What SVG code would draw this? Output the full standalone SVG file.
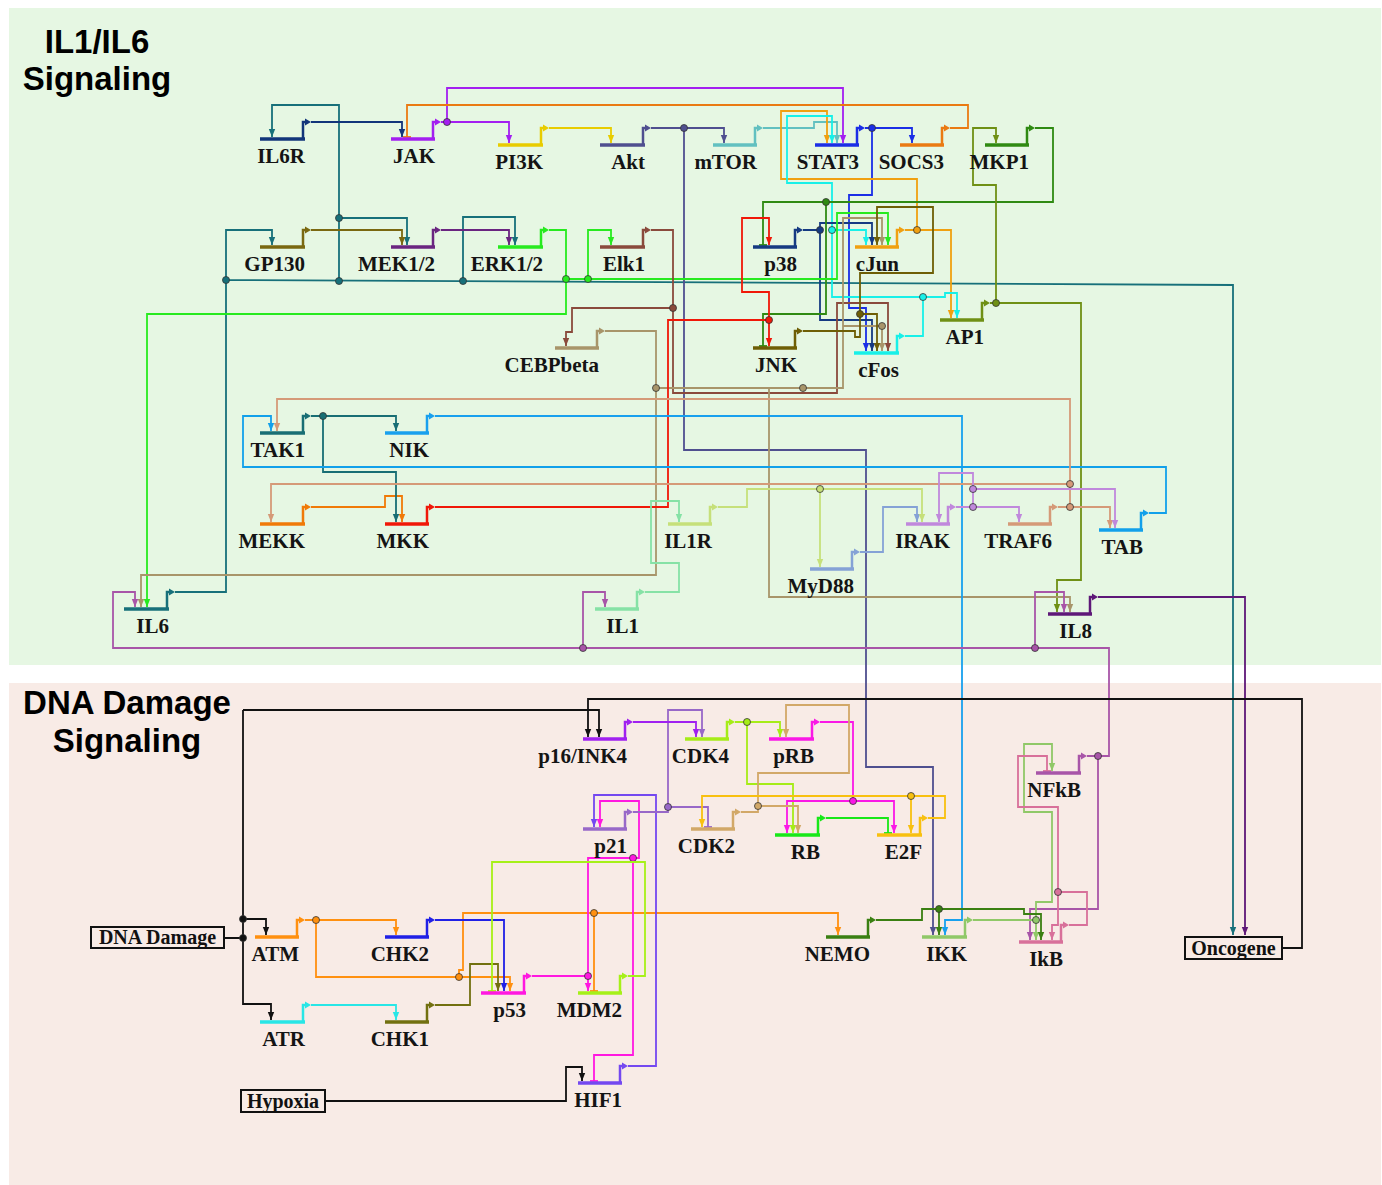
<svg xmlns="http://www.w3.org/2000/svg" width="1382" height="1185" viewBox="0 0 1382 1185">
<style>
.bar{fill:none;stroke:currentColor;stroke-width:3.5}
.pr{fill:none;stroke:currentColor;stroke-width:2.5}
.tri{fill:currentColor}
.lbl{fill:#141414;font-family:"Liberation Serif","Times New Roman",serif;font-weight:bold;font-size:21px;text-anchor:end}
.ln{fill:none;stroke:currentColor;stroke-width:1.8}
.ttl{fill:#000;font-family:"Liberation Sans",Arial,sans-serif;font-weight:bold;font-size:33px;text-anchor:middle}
.box{fill:none;stroke:#111;stroke-width:2}
.blbl{fill:#111;font-family:"Liberation Serif","Times New Roman",serif;font-weight:bold;font-size:20px;text-anchor:middle}
</style>
<defs>
<path id="ah" d="M-3.2 -8L3.2 -8L0 0Z" fill="currentColor"/>
<path id="tb" d="M-4 0H4" stroke="currentColor" stroke-width="1.8"/>
<circle id="dt" r="3.5" fill="currentColor" stroke="#333" stroke-width="0.8"/>
</defs>
<rect x="9" y="8" width="1372" height="657" fill="#e6f7e3"/>
<rect x="9" y="683" width="1372" height="502" fill="#f8ebe6"/>
<text class="ttl" x="97" y="53">IL1/IL6</text>
<text class="ttl" x="97" y="90">Signaling</text>
<text class="ttl" x="127" y="714">DNA Damage</text>
<text class="ttl" x="127" y="752">Signaling</text>

<g id="connectors">
<g id="e-IL6" style="color:#17707a"><path class="ln" d="M175 592H226V230H272V245M226 280L1233 285V935M339 281V105H272V137M339 218H407V245M463 281V217H515V245"/><use href="#ah" x="272" y="245"/><use href="#ah" x="1233" y="935"/><use href="#ah" x="272" y="137"/><use href="#ah" x="407" y="245"/><use href="#ah" x="515" y="245"/><use href="#dt" x="226" y="280"/><use href="#dt" x="339" y="281"/><use href="#dt" x="339" y="218"/><use href="#dt" x="463" y="281"/></g>
<g id="e-IL6R" style="color:#12357a"><path class="ln" d="M311 122H402V137"/><use href="#ah" x="402" y="137"/></g>
<g id="e-JAK" style="color:#a31ff0"><path class="ln" d="M441 122H509V143M447 122V88H843V143"/><use href="#ah" x="509" y="143"/><use href="#ah" x="843" y="143"/><use href="#dt" x="447" y="122"/></g>
<g id="e-SOCS3" style="color:#ea7a12"><path class="ln" d="M950 128H968V105H407V137"/><use href="#tb" x="407" y="137"/></g>
<g id="e-PI3K" style="color:#e8cc00"><path class="ln" d="M549 128H611V143"/><use href="#ah" x="611" y="143"/></g>
<g id="e-Akt" style="color:#4f4f8f"><path class="ln" d="M651 128H724V143M684 128V450H866V767H933V935"/><use href="#ah" x="724" y="143"/><use href="#ah" x="933" y="935"/><use href="#dt" x="684" y="128"/></g>
<g id="e-mTOR" style="color:#62c0c0"><path class="ln" d="M763 128H814V122H837V143"/><use href="#ah" x="837" y="143"/></g>
<g id="e-STAT3" style="color:#1a2ee6"><path class="ln" d="M865 128H912V143M872 128V195H849V308H866V351"/><use href="#ah" x="912" y="143"/><use href="#ah" x="866" y="351"/><use href="#dt" x="872" y="128"/></g>
<g id="e-cJun" style="color:#f0a010"><path class="ln" d="M905 230H951V318M917 230V179H781V111H827V143"/><use href="#ah" x="951" y="318"/><use href="#ah" x="827" y="143"/><use href="#dt" x="917" y="230"/></g>
<g id="e-cFos" style="color:#18f0e8"><path class="ln" d="M905 336H923V297H945V293H957V318M923 297H832V183H787V116H832V143M832 230H866V245"/><use href="#ah" x="957" y="318"/><use href="#ah" x="832" y="143"/><use href="#ah" x="866" y="245"/><use href="#dt" x="923" y="297"/><use href="#dt" x="832" y="230"/></g>
<g id="e-p38" style="color:#153a82"><path class="ln" d="M803 230H820V223H872V245M820 230V320H872V351"/><use href="#ah" x="872" y="245"/><use href="#ah" x="872" y="351"/><use href="#dt" x="820" y="230"/></g>
<g id="e-MKP1" style="color:#2f8a12"><path class="ln" d="M1035 128H1053V202H763V245M826 202V314H763V346"/><use href="#tb" x="763" y="245"/><use href="#tb" x="763" y="346"/><use href="#dt" x="826" y="202"/></g>
<g id="e-AP1" style="color:#6f9015"><path class="ln" d="M990 303H1081V580H1057V612M996 303V185H973V128H996V143"/><use href="#ah" x="1057" y="612"/><use href="#ah" x="996" y="143"/><use href="#dt" x="996" y="303"/></g>
<g id="e-ERK" style="color:#27ea1f"><path class="ln" d="M549 230H566V279H837V213H888V245M588 279V230H611V245M566 279V314H147V607"/><use href="#ah" x="888" y="245"/><use href="#ah" x="611" y="245"/><use href="#ah" x="147" y="607"/><use href="#dt" x="566" y="279"/><use href="#dt" x="588" y="279"/></g>
<g id="e-MEK" style="color:#6a2580"><path class="ln" d="M441 230H509V245"/><use href="#ah" x="509" y="245"/></g>
<g id="e-GP130" style="color:#7a6810"><path class="ln" d="M311 230H402V245"/><use href="#ah" x="402" y="245"/></g>
<g id="e-Elk1" style="color:#8a4a3c"><path class="ln" d="M651 230H673V393H837V303H888V351M673 308H572V332H566V346"/><use href="#ah" x="888" y="351"/><use href="#ah" x="566" y="346"/><use href="#dt" x="673" y="308"/></g>
<g id="e-CEBP" style="color:#a8956a"><path class="ln" d="M605 331H656V575H141V607M656 388H843V218H882V245M843 326H882V351M769 388V597H1070V612"/><use href="#ah" x="141" y="607"/><use href="#ah" x="882" y="245"/><use href="#ah" x="882" y="351"/><use href="#ah" x="1070" y="612"/><use href="#dt" x="656" y="388"/><use href="#dt" x="803" y="388"/><use href="#dt" x="882" y="326"/></g>
<g id="e-JNK" style="color:#6e5e05"><path class="ln" d="M803 331H855V337H860V314H877V351M860 314V273H933V207H877V245"/><use href="#ah" x="877" y="351"/><use href="#ah" x="877" y="245"/><use href="#dt" x="860" y="314"/></g>
<g id="e-MKK" style="color:#f01808"><path class="ln" d="M435 507H668V320H769V346M769 320V292H742V218H769V245"/><use href="#ah" x="769" y="346"/><use href="#ah" x="769" y="245"/><use href="#dt" x="769" y="320"/></g>
<g id="e-MEKK" style="color:#f07a08"><path class="ln" d="M311 507H385V496H402V522"/><use href="#ah" x="402" y="522"/></g>
<g id="e-TAK1" style="color:#186e74"><path class="ln" d="M311 416H396V431M323 416V472H396V522"/><use href="#ah" x="396" y="431"/><use href="#ah" x="396" y="522"/><use href="#dt" x="323" y="416"/></g>
<g id="e-NIK" style="color:#18a0ee"><path class="ln" d="M435 416H962V920H945V935"/><use href="#ah" x="945" y="935"/></g>
<g id="e-TAB" style="color:#12a0ea"><path class="ln" d="M1149 513H1166V467H243V416H271V431"/><use href="#ah" x="271" y="431"/></g>
<g id="e-TRAF6" style="color:#d59a78"><path class="ln" d="M1058 507H1110V528M1070 507V399H277V431M1070 484H271V522"/><use href="#ah" x="1110" y="528"/><use href="#ah" x="277" y="431"/><use href="#ah" x="271" y="522"/><use href="#dt" x="1070" y="507"/><use href="#dt" x="1070" y="484"/></g>
<g id="e-IRAK" style="color:#c088dc"><path class="ln" d="M956 507H1019V522M973 507V473H939V522M973 489H1115V528"/><use href="#ah" x="1019" y="522"/><use href="#ah" x="939" y="522"/><use href="#ah" x="1115" y="528"/><use href="#dt" x="973" y="507"/><use href="#dt" x="973" y="489"/></g>
<g id="e-MyD88" style="color:#85a2d6"><path class="ln" d="M860 552H883V507H917V522"/><use href="#ah" x="917" y="522"/></g>
<g id="e-IL1R" style="color:#c6e07a"><path class="ln" d="M718 507H747V489H922V522M820 489V567"/><use href="#ah" x="922" y="522"/><use href="#ah" x="820" y="567"/><use href="#dt" x="820" y="489"/></g>
<g id="e-IL1" style="color:#86e2a6"><path class="ln" d="M645 592H679V563H651V501H679V522"/><use href="#ah" x="679" y="522"/></g>
<g id="e-NFkB" style="color:#a855a8"><path class="ln" d="M1087 756H1109V648H113V592H135V607M1035 648V592H1064V612M583 648V592H605V607M1098 756V909H1030V940"/><use href="#ah" x="135" y="607"/><use href="#ah" x="1064" y="612"/><use href="#ah" x="605" y="607"/><use href="#ah" x="1030" y="940"/><use href="#dt" x="1098" y="756"/><use href="#dt" x="1035" y="648"/><use href="#dt" x="583" y="648"/></g>
<g id="e-IL8" style="color:#5e1878"><path class="ln" d="M1098 597H1245V935"/><use href="#ah" x="1245" y="935"/></g>
<g id="e-Oncogene" style="color:#111"><path class="ln" d="M1282 948H1302V699H588V737"/><use href="#ah" x="588" y="737"/></g>
<g id="e-DNADamage" style="color:#111"><path class="ln" d="M224 938H243M243 710V1004H271V1020M243 710H599V737M243 919H266V935"/><use href="#ah" x="271" y="1020"/><use href="#ah" x="599" y="737"/><use href="#ah" x="266" y="935"/><use href="#dt" x="243" y="938"/><use href="#dt" x="243" y="919"/></g>
<g id="e-Hypoxia" style="color:#111"><path class="ln" d="M325 1101H566V1067H582V1081"/><use href="#ah" x="582" y="1081"/></g>
<g id="e-ATM" style="color:#ff9010"><path class="ln" d="M305 920H396V935M316 920V977H510V991M459 977V970H463V913H838V935M594 913V991"/><use href="#ah" x="396" y="935"/><use href="#ah" x="510" y="991"/><use href="#ah" x="838" y="935"/><use href="#tb" x="594" y="991"/><use href="#dt" x="316" y="920"/><use href="#dt" x="459" y="977"/><use href="#dt" x="594" y="913"/></g>
<g id="e-CHK2" style="color:#2020e6"><path class="ln" d="M435 920H504V991"/><use href="#ah" x="504" y="991"/></g>
<g id="e-ATR" style="color:#28e6e6"><path class="ln" d="M311 1005H396V1020"/><use href="#ah" x="396" y="1020"/></g>
<g id="e-CHK1" style="color:#727010"><path class="ln" d="M435 1005H470V964H498V991"/><use href="#ah" x="498" y="991"/></g>
<g id="e-p53" style="color:#ff18e0"><path class="ln" d="M532 976H588V991M588 976V858H639V801H600V827M633 858V1055H594V1081"/><use href="#ah" x="588" y="991"/><use href="#ah" x="600" y="827"/><use href="#tb" x="594" y="1081"/><use href="#dt" x="588" y="976"/><use href="#dt" x="633" y="858"/></g>
<g id="e-MDM2" style="color:#a6f018"><path class="ln" d="M628 976H645V862H492V991"/><use href="#tb" x="492" y="991"/></g>
<g id="e-HIF1" style="color:#7448f0"><path class="ln" d="M628 1066H656V795H594V827"/><use href="#ah" x="594" y="827"/></g>
<g id="e-p21" style="color:#9868c8"><path class="ln" d="M633 812H668V807M668 807V710H702V737M668 807H708V827"/><use href="#ah" x="702" y="737"/><use href="#tb" x="708" y="827"/><use href="#dt" x="668" y="807"/></g>
<g id="e-p16" style="color:#a020f0"><path class="ln" d="M633 722H696V737"/><use href="#ah" x="696" y="737"/></g>
<g id="e-CDK4" style="color:#a6ec18"><path class="ln" d="M735 722H780V737M747 722V784H793V833"/><use href="#ah" x="780" y="737"/><use href="#ah" x="793" y="833"/><use href="#dt" x="747" y="722"/></g>
<g id="e-pRB" style="color:#fa18e6"><path class="ln" d="M820 722H853V801H787V833M853 801H894V833"/><use href="#ah" x="787" y="833"/><use href="#ah" x="894" y="833"/><use href="#dt" x="853" y="801"/></g>
<g id="e-CDK2" style="color:#d2a868"><path class="ln" d="M741 812H758V806M758 806V773H849V705H786V737M758 806H798V833"/><use href="#ah" x="786" y="737"/><use href="#ah" x="798" y="833"/><use href="#dt" x="758" y="806"/></g>
<g id="e-E2F" style="color:#f8c010"><path class="ln" d="M928 818H945V796H702V827M911 796V833"/><use href="#ah" x="702" y="827"/><use href="#ah" x="911" y="833"/><use href="#dt" x="911" y="796"/></g>
<g id="e-RB" style="color:#18e818"><path class="ln" d="M826 818H888V833"/><use href="#tb" x="888" y="833"/></g>
<g id="e-IKK" style="color:#90c868"><path class="ln" d="M973 920H1036V940M1036 920V902H1052V812H1024V744H1052V771"/><use href="#ah" x="1036" y="940"/><use href="#ah" x="1052" y="771"/><use href="#dt" x="1036" y="920"/></g>
<g id="e-NEMO" style="color:#3a7f12"><path class="ln" d="M876 920H922V909H1024V914H1041V940M939 909V935"/><use href="#ah" x="1041" y="940"/><use href="#ah" x="939" y="935"/><use href="#dt" x="939" y="909"/></g>
<g id="e-IkB" style="color:#d8709a"><path class="ln" d="M1069 925H1087V892H1058V925H1052V940M1058 892V807H1018V756H1047V771"/><use href="#ah" x="1052" y="940"/><use href="#tb" x="1047" y="771"/><use href="#dt" x="1058" y="892"/></g>
</g>

<g id="nodes">
<g id="n-IL6R" style="color:#12357a"><path class="bar" d="M260 139H305"/><path class="pr" d="M303 139V122H305"/><path class="tri" d="M305 118.5V125.5L311 122Z"/><text class="lbl" x="305" y="163">IL6R</text></g>
<g id="n-JAK" style="color:#a31ff0"><path class="bar" d="M391 139H435"/><path class="pr" d="M433 139V122H435"/><path class="tri" d="M435 118.5V125.5L441 122Z"/><text class="lbl" x="435" y="163">JAK</text></g>
<g id="n-PI3K" style="color:#e8cc00"><path class="bar" d="M498 145H543"/><path class="pr" d="M541 145V128H543"/><path class="tri" d="M543 124.5V131.5L549 128Z"/><text class="lbl" x="543" y="169">PI3K</text></g>
<g id="n-Akt" style="color:#4f4f8f"><path class="bar" d="M600 145H645"/><path class="pr" d="M643 145V128H645"/><path class="tri" d="M645 124.5V131.5L651 128Z"/><text class="lbl" x="645" y="169">Akt</text></g>
<g id="n-mTOR" style="color:#62c0c0"><path class="bar" d="M713 145H757"/><path class="pr" d="M755 145V128H757"/><path class="tri" d="M757 124.5V131.5L763 128Z"/><text class="lbl" x="757" y="169">mTOR</text></g>
<g id="n-STAT3" style="color:#1a2ee6"><path class="bar" d="M815 145H859"/><path class="pr" d="M857 145V128H859"/><path class="tri" d="M859 124.5V131.5L865 128Z"/><text class="lbl" x="859" y="169">STAT3</text></g>
<g id="n-SOCS3" style="color:#ea7a12"><path class="bar" d="M900 145H944"/><path class="pr" d="M942 145V128H944"/><path class="tri" d="M944 124.5V131.5L950 128Z"/><text class="lbl" x="944" y="169">SOCS3</text></g>
<g id="n-MKP1" style="color:#2f8a12"><path class="bar" d="M985 145H1029"/><path class="pr" d="M1027 145V128H1029"/><path class="tri" d="M1029 124.5V131.5L1035 128Z"/><text class="lbl" x="1029" y="169">MKP1</text></g>
<g id="n-GP130" style="color:#7a6810"><path class="bar" d="M260 247H305"/><path class="pr" d="M303 247V230H305"/><path class="tri" d="M305 226.5V233.5L311 230Z"/><text class="lbl" x="305" y="271">GP130</text></g>
<g id="n-MEK12" style="color:#6a2580"><path class="bar" d="M391 247H435"/><path class="pr" d="M433 247V230H435"/><path class="tri" d="M435 226.5V233.5L441 230Z"/><text class="lbl" x="435" y="271">MEK1/2</text></g>
<g id="n-ERK12" style="color:#27ea1f"><path class="bar" d="M498 247H543"/><path class="pr" d="M541 247V230H543"/><path class="tri" d="M543 226.5V233.5L549 230Z"/><text class="lbl" x="543" y="271">ERK1/2</text></g>
<g id="n-Elk1" style="color:#8a4a3c"><path class="bar" d="M600 247H645"/><path class="pr" d="M643 247V230H645"/><path class="tri" d="M645 226.5V233.5L651 230Z"/><text class="lbl" x="645" y="271">Elk1</text></g>
<g id="n-p38" style="color:#153a82"><path class="bar" d="M753 247H797"/><path class="pr" d="M795 247V230H797"/><path class="tri" d="M797 226.5V233.5L803 230Z"/><text class="lbl" x="797" y="271">p38</text></g>
<g id="n-cJun" style="color:#f0a010"><path class="bar" d="M855 247H899"/><path class="pr" d="M897 247V230H899"/><path class="tri" d="M899 226.5V233.5L905 230Z"/><text class="lbl" x="899" y="271">cJun</text></g>
<g id="n-AP1" style="color:#6f9015"><path class="bar" d="M940 320H984"/><path class="pr" d="M982 320V303H984"/><path class="tri" d="M984 299.5V306.5L990 303Z"/><text class="lbl" x="984" y="344">AP1</text></g>
<g id="n-CEBPbeta" style="color:#a8956a"><path class="bar" d="M555 348H599"/><path class="pr" d="M597 348V331H599"/><path class="tri" d="M599 327.5V334.5L605 331Z"/><text class="lbl" x="599" y="372">CEBPbeta</text></g>
<g id="n-JNK" style="color:#6e5e05"><path class="bar" d="M753 348H797"/><path class="pr" d="M795 348V331H797"/><path class="tri" d="M797 327.5V334.5L803 331Z"/><text class="lbl" x="797" y="372">JNK</text></g>
<g id="n-cFos" style="color:#18f0e8"><path class="bar" d="M854 353H899"/><path class="pr" d="M897 353V336H899"/><path class="tri" d="M899 332.5V339.5L905 336Z"/><text class="lbl" x="899" y="377">cFos</text></g>
<g id="n-TAK1" style="color:#186e74"><path class="bar" d="M260 433H305"/><path class="pr" d="M303 433V416H305"/><path class="tri" d="M305 412.5V419.5L311 416Z"/><text class="lbl" x="305" y="457">TAK1</text></g>
<g id="n-NIK" style="color:#18a0ee"><path class="bar" d="M385 433H429"/><path class="pr" d="M427 433V416H429"/><path class="tri" d="M429 412.5V419.5L435 416Z"/><text class="lbl" x="429" y="457">NIK</text></g>
<g id="n-MEKK" style="color:#f07a08"><path class="bar" d="M260 524H305"/><path class="pr" d="M303 524V507H305"/><path class="tri" d="M305 503.5V510.5L311 507Z"/><text class="lbl" x="305" y="548">MEKK</text></g>
<g id="n-MKK" style="color:#f01808"><path class="bar" d="M385 524H429"/><path class="pr" d="M427 524V507H429"/><path class="tri" d="M429 503.5V510.5L435 507Z"/><text class="lbl" x="429" y="548">MKK</text></g>
<g id="n-IL1R" style="color:#c6e07a"><path class="bar" d="M668 524H712"/><path class="pr" d="M710 524V507H712"/><path class="tri" d="M712 503.5V510.5L718 507Z"/><text class="lbl" x="712" y="548">IL1R</text></g>
<g id="n-IRAK" style="color:#c088dc"><path class="bar" d="M906 524H950"/><path class="pr" d="M948 524V507H950"/><path class="tri" d="M950 503.5V510.5L956 507Z"/><text class="lbl" x="950" y="548">IRAK</text></g>
<g id="n-TRAF6" style="color:#d59a78"><path class="bar" d="M1008 524H1052"/><path class="pr" d="M1050 524V507H1052"/><path class="tri" d="M1052 503.5V510.5L1058 507Z"/><text class="lbl" x="1052" y="548">TRAF6</text></g>
<g id="n-TAB" style="color:#12a0ea"><path class="bar" d="M1099 530H1143"/><path class="pr" d="M1141 530V513H1143"/><path class="tri" d="M1143 509.5V516.5L1149 513Z"/><text class="lbl" x="1143" y="554">TAB</text></g>
<g id="n-MyD88" style="color:#85a2d6"><path class="bar" d="M810 569H854"/><path class="pr" d="M852 569V552H854"/><path class="tri" d="M854 548.5V555.5L860 552Z"/><text class="lbl" x="854" y="593">MyD88</text></g>
<g id="n-IL6" style="color:#17707a"><path class="bar" d="M124 609H169"/><path class="pr" d="M167 609V592H169"/><path class="tri" d="M169 588.5V595.5L175 592Z"/><text class="lbl" x="169" y="633">IL6</text></g>
<g id="n-IL1" style="color:#86e2a6"><path class="bar" d="M595 609H639"/><path class="pr" d="M637 609V592H639"/><path class="tri" d="M639 588.5V595.5L645 592Z"/><text class="lbl" x="639" y="633">IL1</text></g>
<g id="n-IL8" style="color:#5e1878"><path class="bar" d="M1048 614H1092"/><path class="pr" d="M1090 614V597H1092"/><path class="tri" d="M1092 593.5V600.5L1098 597Z"/><text class="lbl" x="1092" y="638">IL8</text></g>
<g id="n-p16INK4" style="color:#a020f0"><path class="bar" d="M583 739H627"/><path class="pr" d="M625 739V722H627"/><path class="tri" d="M627 718.5V725.5L633 722Z"/><text class="lbl" x="627" y="763">p16/INK4</text></g>
<g id="n-CDK4" style="color:#a6ec18"><path class="bar" d="M685 739H729"/><path class="pr" d="M727 739V722H729"/><path class="tri" d="M729 718.5V725.5L735 722Z"/><text class="lbl" x="729" y="763">CDK4</text></g>
<g id="n-pRB" style="color:#fa18e6"><path class="bar" d="M769 739H814"/><path class="pr" d="M812 739V722H814"/><path class="tri" d="M814 718.5V725.5L820 722Z"/><text class="lbl" x="814" y="763">pRB</text></g>
<g id="n-p21" style="color:#9868c8"><path class="bar" d="M583 829H627"/><path class="pr" d="M625 829V812H627"/><path class="tri" d="M627 808.5V815.5L633 812Z"/><text class="lbl" x="627" y="853">p21</text></g>
<g id="n-CDK2" style="color:#d2a868"><path class="bar" d="M691 829H735"/><path class="pr" d="M733 829V812H735"/><path class="tri" d="M735 808.5V815.5L741 812Z"/><text class="lbl" x="735" y="853">CDK2</text></g>
<g id="n-RB" style="color:#18e818"><path class="bar" d="M775 835H820"/><path class="pr" d="M818 835V818H820"/><path class="tri" d="M820 814.5V821.5L826 818Z"/><text class="lbl" x="820" y="859">RB</text></g>
<g id="n-E2F" style="color:#f8c010"><path class="bar" d="M877 835H922"/><path class="pr" d="M920 835V818H922"/><path class="tri" d="M922 814.5V821.5L928 818Z"/><text class="lbl" x="922" y="859">E2F</text></g>
<g id="n-NFkB" style="color:#a855a8"><path class="bar" d="M1036 773H1081"/><path class="pr" d="M1079 773V756H1081"/><path class="tri" d="M1081 752.5V759.5L1087 756Z"/><text class="lbl" x="1081" y="797">NFkB</text></g>
<g id="n-NEMO" style="color:#3a7f12"><path class="bar" d="M826 937H870"/><path class="pr" d="M868 937V920H870"/><path class="tri" d="M870 916.5V923.5L876 920Z"/><text class="lbl" x="870" y="961">NEMO</text></g>
<g id="n-IKK" style="color:#90c868"><path class="bar" d="M922 937H967"/><path class="pr" d="M965 937V920H967"/><path class="tri" d="M967 916.5V923.5L973 920Z"/><text class="lbl" x="967" y="961">IKK</text></g>
<g id="n-IkB" style="color:#d8709a"><path class="bar" d="M1019 942H1063"/><path class="pr" d="M1061 942V925H1063"/><path class="tri" d="M1063 921.5V928.5L1069 925Z"/><text class="lbl" x="1063" y="966">IkB</text></g>
<g id="n-ATM" style="color:#ff9010"><path class="bar" d="M255 937H299"/><path class="pr" d="M297 937V920H299"/><path class="tri" d="M299 916.5V923.5L305 920Z"/><text class="lbl" x="299" y="961">ATM</text></g>
<g id="n-CHK2" style="color:#2020e6"><path class="bar" d="M385 937H429"/><path class="pr" d="M427 937V920H429"/><path class="tri" d="M429 916.5V923.5L435 920Z"/><text class="lbl" x="429" y="961">CHK2</text></g>
<g id="n-ATR" style="color:#28e6e6"><path class="bar" d="M260 1022H305"/><path class="pr" d="M303 1022V1005H305"/><path class="tri" d="M305 1001.5V1008.5L311 1005Z"/><text class="lbl" x="305" y="1046">ATR</text></g>
<g id="n-CHK1" style="color:#727010"><path class="bar" d="M385 1022H429"/><path class="pr" d="M427 1022V1005H429"/><path class="tri" d="M429 1001.5V1008.5L435 1005Z"/><text class="lbl" x="429" y="1046">CHK1</text></g>
<g id="n-p53" style="color:#ff18e0"><path class="bar" d="M481 993H526"/><path class="pr" d="M524 993V976H526"/><path class="tri" d="M526 972.5V979.5L532 976Z"/><text class="lbl" x="526" y="1017">p53</text></g>
<g id="n-MDM2" style="color:#a6f018"><path class="bar" d="M578 993H622"/><path class="pr" d="M620 993V976H622"/><path class="tri" d="M622 972.5V979.5L628 976Z"/><text class="lbl" x="622" y="1017">MDM2</text></g>
<g id="n-HIF1" style="color:#7448f0"><path class="bar" d="M578 1083H622"/><path class="pr" d="M620 1083V1066H622"/><path class="tri" d="M622 1062.5V1069.5L628 1066Z"/><text class="lbl" x="622" y="1107">HIF1</text></g>
<g id="n-DNADamage"><rect class="box" x="91" y="927" width="133" height="21"/><text class="blbl" x="157.5" y="944">DNA Damage</text></g>
<g id="n-Oncogene"><rect class="box" x="1185" y="937" width="97" height="22"/><text class="blbl" x="1233.5" y="955">Oncogene</text></g>
<g id="n-Hypoxia"><rect class="box" x="241" y="1090" width="84" height="22"/><text class="blbl" x="283" y="1108">Hypoxia</text></g>
</g>
</svg>
